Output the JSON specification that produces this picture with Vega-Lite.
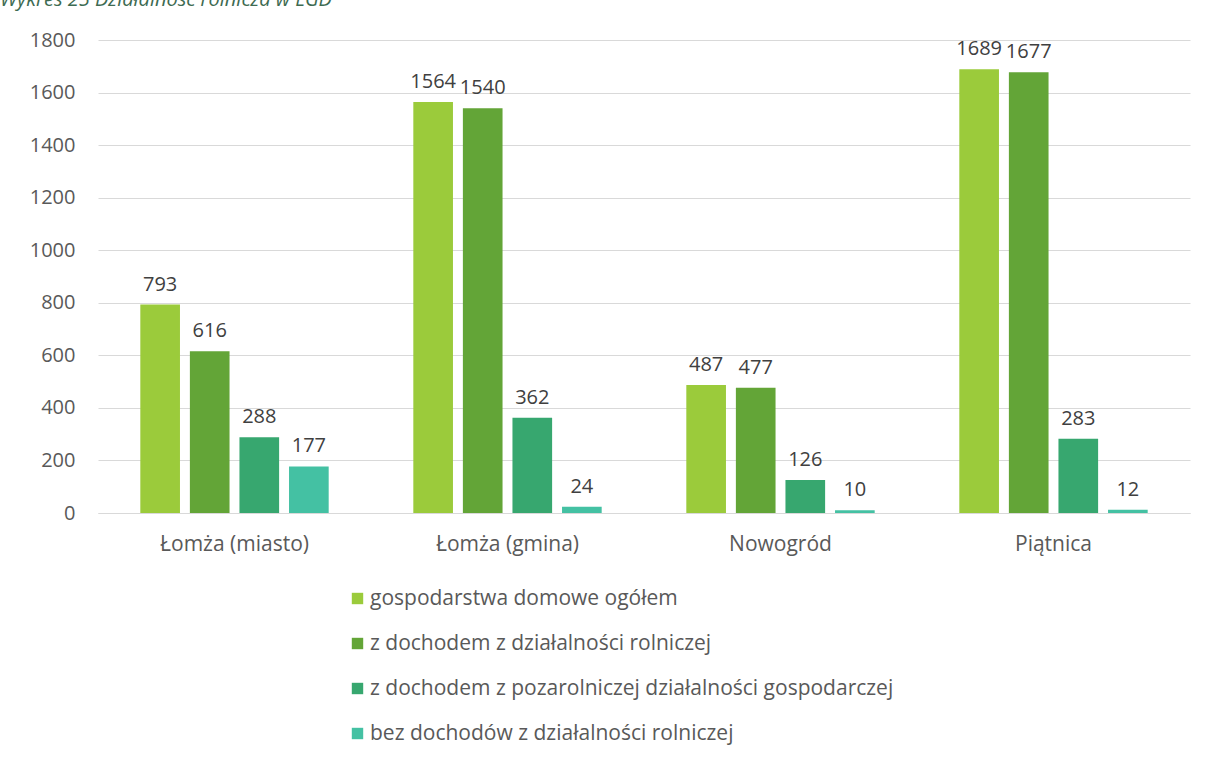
{
  "$schema": "https://vega.github.io/schema/vega-lite/v6.json",
  "width": 1092,
  "height": 473,
  "autosize": "none",
  "padding": {"left": 98, "top": 40, "right": 19, "bottom": 247},
  "background": "white",
  "title": {
    "text": "Wykres 25 Działalność rolnicza w LGD",
    "anchor": "start",
    "frame": "group",
    "dx": -98,
    "dy": 24,
    "offset": 28,
    "baseline": "alphabetic",
    "font": "Open Sans",
    "fontSize": 20,
    "fontStyle": "italic",
    "fontWeight": "normal",
    "color": "#3E6B52"
  },
  "data": {
    "values": [
      {"gmina": "Łomża (miasto)", "kategoria": "gospodarstwa domowe ogółem", "wartosc": 793},
      {"gmina": "Łomża (miasto)", "kategoria": "z dochodem z działalności rolniczej", "wartosc": 616},
      {"gmina": "Łomża (miasto)", "kategoria": "z dochodem z pozarolniczej działalności gospodarczej", "wartosc": 288},
      {"gmina": "Łomża (miasto)", "kategoria": "bez dochodów z działalności rolniczej", "wartosc": 177},
      {"gmina": "Łomża (gmina)", "kategoria": "gospodarstwa domowe ogółem", "wartosc": 1564},
      {"gmina": "Łomża (gmina)", "kategoria": "z dochodem z działalności rolniczej", "wartosc": 1540},
      {"gmina": "Łomża (gmina)", "kategoria": "z dochodem z pozarolniczej działalności gospodarczej", "wartosc": 362},
      {"gmina": "Łomża (gmina)", "kategoria": "bez dochodów z działalności rolniczej", "wartosc": 24},
      {"gmina": "Nowogród", "kategoria": "gospodarstwa domowe ogółem", "wartosc": 487},
      {"gmina": "Nowogród", "kategoria": "z dochodem z działalności rolniczej", "wartosc": 477},
      {"gmina": "Nowogród", "kategoria": "z dochodem z pozarolniczej działalności gospodarczej", "wartosc": 126},
      {"gmina": "Nowogród", "kategoria": "bez dochodów z działalności rolniczej", "wartosc": 10},
      {"gmina": "Piątnica", "kategoria": "gospodarstwa domowe ogółem", "wartosc": 1689},
      {"gmina": "Piątnica", "kategoria": "z dochodem z działalności rolniczej", "wartosc": 1677},
      {"gmina": "Piątnica", "kategoria": "z dochodem z pozarolniczej działalności gospodarczej", "wartosc": 283},
      {"gmina": "Piątnica", "kategoria": "bez dochodów z działalności rolniczej", "wartosc": 12}
    ]
  },
  "encoding": {
    "x": {
      "field": "gmina",
      "type": "nominal",
      "sort": ["Łomża (miasto)", "Łomża (gmina)", "Nowogród", "Piątnica"],
      "scale": {"paddingInner": 0.31, "paddingOuter": 0.155},
      "axis": {
        "title": null,
        "labelAngle": 0,
        "ticks": false,
        "domainColor": "#d9d9d9",
        "domainWidth": 1,
        "labelPadding": 20,
        "labelFont": "Open Sans",
        "labelFontSize": 21,
        "labelColor": "#595959"
      }
    },
    "xOffset": {
      "field": "kategoria",
      "type": "nominal",
      "sort": [
        "gospodarstwa domowe ogółem",
        "z dochodem z działalności rolniczej",
        "z dochodem z pozarolniczej działalności gospodarczej",
        "bez dochodów z działalności rolniczej"
      ],
      "scale": {"paddingInner": 0.2}
    },
    "y": {
      "field": "wartosc",
      "type": "quantitative",
      "scale": {"domain": [0, 1800]},
      "axis": {
        "title": null,
        "values": [0, 200, 400, 600, 800, 1000, 1200, 1400, 1600, 1800],
        "format": "d",
        "domain": false,
        "ticks": false,
        "gridColor": "#d9d9d9",
        "gridWidth": 1,
        "labelPadding": 23,
        "labelFont": "Open Sans",
        "labelFontSize": 20,
        "labelColor": "#595959"
      }
    }
  },
  "layer": [
    {
      "mark": {"type": "bar"},
      "encoding": {
        "color": {
          "field": "kategoria",
          "type": "nominal",
          "sort": [
            "gospodarstwa domowe ogółem",
            "z dochodem z działalności rolniczej",
            "z dochodem z pozarolniczej działalności gospodarczej",
            "bez dochodów z działalności rolniczej"
          ],
          "scale": {"range": ["#9BCB3B", "#63A537", "#37A76F", "#44C1A3"]},
          "legend": {
            "title": null,
            "orient": "none",
            "legendX": 249,
            "legendY": 548,
            "direction": "vertical",
            "symbolType": "square",
            "symbolSize": 130,
            "symbolStrokeWidth": 0,
            "symbolOpacity": 1,
            "labelFont": "Open Sans",
            "labelFontSize": 21,
            "labelColor": "#595959",
            "labelLimit": 900,
            "labelOffset": 2,
            "rowPadding": 23
          }
        }
      }
    },
    {
      "mark": {
        "type": "text",
        "baseline": "bottom",
        "dy": -10,
        "font": "Open Sans",
        "fontSize": 20,
        "color": "#404040"
      },
      "encoding": {"text": {"field": "wartosc", "type": "quantitative"}}
    }
  ],
  "config": {"view": {"stroke": null}}
}
